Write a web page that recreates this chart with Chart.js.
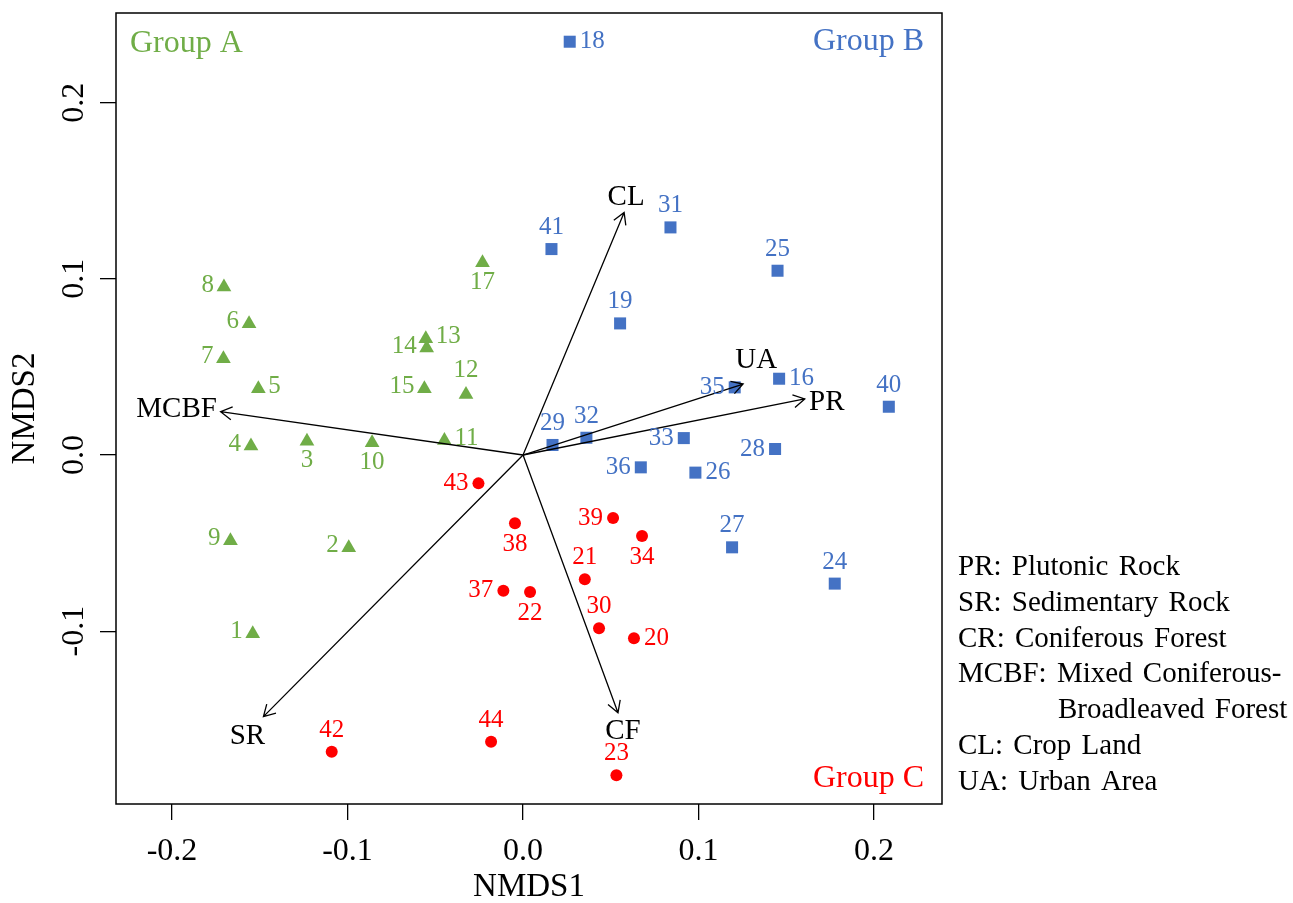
<!DOCTYPE html>
<html>
<head>
<meta charset="utf-8">
<title>NMDS ordination</title>
<script src="https://cdn.jsdelivr.net/npm/chart.js@4.4.1/dist/chart.umd.min.js"></script>
<style>
  html, body { margin: 0; padding: 0; background: #ffffff; }
  #wrap { width: 1293px; height: 903px; }
</style>
</head>
<body>
<div id="wrap"><canvas id="nmdsChart" width="1293" height="903"></canvas></div>
<script>
// ----------------------------------------------------
// Data
// ----------------------------------------------------
const groupNames = ['Group A', 'Group B', 'Group C'];

const groupAIds = [1, 2, 3, 4, 5, 6, 7, 8, 9, 10, 11, 12, 13, 14, 15, 17];
const groupAX = [-0.1540, -0.0993, -0.1231, -0.1550, -0.1508, -0.1561, -0.1707, -0.1704,
                 -0.1667, -0.0860, -0.0448, -0.0325, -0.0554, -0.0549, -0.0562, -0.0231];
const groupAY = [-0.1014, -0.0526, 0.0078, 0.0051, 0.0376, 0.0745, 0.0547, 0.0953,
                 -0.0486, 0.0070, 0.0083, 0.0344, 0.0660, 0.0607, 0.0376, 0.1091];

const groupBIds = [16, 18, 19, 24, 25, 26, 27, 28, 29, 31, 32, 33, 35, 36, 40, 41];
const groupBX = [0.1459, 0.0266, 0.0553, 0.1776, 0.1450, 0.0982, 0.1191, 0.1436,
                 0.0168, 0.0840, 0.0361, 0.0916, 0.1206, 0.0671, 0.2084, 0.0162];
const groupBY = [0.0433, 0.2346, 0.0747, -0.0730, 0.1046, -0.0100, -0.0524, 0.0034,
                 0.0057, 0.1292, 0.0098, 0.0096, 0.0384, -0.0070, 0.0274, 0.1169];

const groupCIds = [20, 21, 22, 23, 30, 34, 37, 38, 39, 42, 43, 44];
const groupCX = [0.0632, 0.0352, 0.0040, 0.0532, 0.0433, 0.0678,
                 -0.0112, -0.0046, 0.0513, -0.1090, -0.0254, -0.0182];
const groupCY = [-0.1040, -0.0705, -0.0778, -0.1818, -0.0984, -0.0460,
                 -0.0770, -0.0388, -0.0358, -0.1684, -0.0161, -0.1627];

// Environmental vectors (arrow tips)
const vectorNames = ['CL', 'UA', 'PR', 'MCBF', 'SR', 'CF'];
const vectorX = [0.0576, 0.1254, 0.1605, -0.1723, -0.1479, 0.0541];
const vectorY = [0.1377, 0.0403, 0.0318, 0.0246, -0.1485, -0.1463];

// Axis ticks
const xTicks = [-0.2, -0.1, 0.0, 0.1, 0.2];
const yTicks = [-0.1, 0.0, 0.1, 0.2];

// Abbreviation key on the right
const keyLines = [
    'PR: Plutonic Rock',
    'SR: Sedimentary Rock',
    'CR: Coniferous Forest',
    'MCBF: Mixed Coniferous-',
    'Broadleaved Forest',
    'CL: Crop Land',
    'UA: Urban Area'
];

// ----------------------------------------------------
// Styling (label placement, fonts, colours)
// ----------------------------------------------------
const FONT = "'Liberation Serif', 'Times New Roman', serif";
Chart.defaults.font.family = FONT;
Chart.defaults.color = '#000000';

const COLORS = { A: '#70AD47', B: '#4472C4', C: '#FF0000' };

// which side of the marker each sample number sits on (l/r/t/b)
const groupASide = ['l', 'l', 'b', 'l', 'r', 'l', 'l', 'l', 'l', 'b', 'r', 't', 'r', 'l', 'l', 'b'];
const groupBSide = ['r', 'r', 't', 't', 't', 'r', 't', 'l', 't', 't', 't', 'l', 'l', 'l', 't', 't'];
const groupCSide = ['r', 't', 'b', 't', 't', 'b', 'l', 'b', 'l', 't', 'l', 't'];

// pixel offset of each vector name from its arrow tip
const vectorLabelOffset = [[2, -15], [13, -24], [22, 3], [-44, -2], [-16, 20], [5, 19]];

function toPoints(xs, ys) {
    return xs.map((x, i) => ({ x: x, y: ys[i] }));
}

// ----------------------------------------------------
// Plugins
// ----------------------------------------------------
const frameBox = {
    id: 'frameBox',
    afterDraw(chart) {
        const { ctx, chartArea: a } = chart;
        ctx.save();
        ctx.strokeStyle = '#000';
        ctx.lineWidth = 1.5;
        ctx.strokeRect(a.left, a.top, a.right - a.left, a.bottom - a.top);
        ctx.restore();
    }
};

const envVectors = {
    id: 'envVectors',
    afterDatasetsDraw(chart) {
        const { ctx, scales: { x, y } } = chart;
        const x0 = x.getPixelForValue(0);
        const y0 = y.getPixelForValue(0);
        const head = 13;
        ctx.save();
        ctx.strokeStyle = '#000';
        ctx.fillStyle = '#000';
        ctx.lineWidth = 1.3;
        ctx.font = '29px ' + FONT;
        ctx.textAlign = 'center';
        ctx.textBaseline = 'middle';
        vectorNames.forEach((name, i) => {
            const x1 = x.getPixelForValue(vectorX[i]);
            const y1 = y.getPixelForValue(vectorY[i]);
            const ang = Math.atan2(y1 - y0, x1 - x0);
            ctx.beginPath();
            ctx.moveTo(x0, y0);
            ctx.lineTo(x1, y1);
            ctx.moveTo(x1 - head * Math.cos(ang - Math.PI / 6), y1 - head * Math.sin(ang - Math.PI / 6));
            ctx.lineTo(x1, y1);
            ctx.lineTo(x1 - head * Math.cos(ang + Math.PI / 6), y1 - head * Math.sin(ang + Math.PI / 6));
            ctx.stroke();
            const off = vectorLabelOffset[i];
            ctx.fillText(name, x1 + off[0], y1 + off[1]);
        });
        ctx.restore();
    }
};

const labelSets = [
    { ids: groupAIds, sides: groupASide, color: COLORS.A, shift: -2 },
    { ids: groupBIds, sides: groupBSide, color: COLORS.B, shift: 0 },
    { ids: groupCIds, sides: groupCSide, color: COLORS.C, shift: 0 }
];

const sampleLabels = {
    id: 'sampleLabels',
    afterDatasetsDraw(chart) {
        const { ctx } = chart;
        const gap = 10, vgap = 21.5;
        ctx.save();
        ctx.font = '25px ' + FONT;
        ctx.textBaseline = 'middle';
        labelSets.forEach((set, di) => {
            const meta = chart.getDatasetMeta(di);
            ctx.fillStyle = set.color;
            meta.data.forEach((pt, i) => {
                let tx = pt.x, ty = pt.y + set.shift;
                switch (set.sides[i]) {
                    case 'l': ctx.textAlign = 'right'; tx -= gap; break;
                    case 'r': ctx.textAlign = 'left'; tx += gap; break;
                    case 't': ctx.textAlign = 'center'; ty -= vgap; break;
                    default: ctx.textAlign = 'center'; ty += vgap;
                }
                ctx.fillText(String(set.ids[i]), tx, ty);
            });
        });
        ctx.restore();
    }
};

const annotations = {
    id: 'annotations',
    afterDraw(chart) {
        const { ctx, chartArea: a } = chart;
        ctx.save();
        ctx.textBaseline = 'alphabetic';
        ctx.font = '32px ' + FONT;

        // group names in the corners
        ctx.fillStyle = COLORS.A;
        ctx.textAlign = 'left';
        ctx.fillText(groupNames[0], a.left + 14, a.top + 39);
        ctx.fillStyle = COLORS.B;
        ctx.textAlign = 'right';
        ctx.fillText(groupNames[1], a.right - 18, a.top + 37);
        ctx.fillStyle = COLORS.C;
        ctx.fillText(groupNames[2], a.right - 18, a.bottom - 17);

        // abbreviation key
        ctx.fillStyle = '#000';
        ctx.textAlign = 'left';
        ctx.font = '29px ' + FONT;
        if ('wordSpacing' in ctx) ctx.wordSpacing = '3px';
        keyLines.forEach((line, i) => {
            const indent = (i === 4) ? 100 : 0;
            ctx.fillText(line, a.right + 16 + indent, 575 + i * 35.8);
        });
        ctx.restore();
    }
};

// ----------------------------------------------------
// Chart
// ----------------------------------------------------
const axisGrid = {
    display: true,
    drawOnChartArea: false,
    drawTicks: true,
    tickLength: 16,
    color: '#000',
    lineWidth: 1.3
};

// fixed axis boxes, no extra padding for edge labels
function fixBox(size) {
    return s => {
        if (s.isHorizontal()) s.height = size; else s.width = size;
        s.paddingTop = 0;
        s.paddingBottom = 0;
        s.paddingLeft = 0;
        s.paddingRight = 0;
    };
}

const ctx = document.getElementById('nmdsChart').getContext('2d');
new Chart(ctx, {
    type: 'scatter',
    data: {
        datasets: [
            {
                label: groupNames[0],
                data: toPoints(groupAX, groupAY),
                pointStyle: 'triangle',
                pointRadius: 8.5,
                backgroundColor: COLORS.A,
                borderColor: COLORS.A,
                borderWidth: 0
            },
            {
                label: groupNames[1],
                data: toPoints(groupBX, groupBY),
                pointStyle: 'rect',
                pointRadius: 8.5,
                backgroundColor: COLORS.B,
                borderColor: COLORS.B,
                borderWidth: 0
            },
            {
                label: groupNames[2],
                data: toPoints(groupCX, groupCY),
                pointStyle: 'circle',
                pointRadius: 6,
                backgroundColor: COLORS.C,
                borderColor: COLORS.C,
                borderWidth: 0
            }
        ]
    },
    options: {
        responsive: false,
        animation: false,
        devicePixelRatio: 1,
        events: [],
        layout: { padding: { top: 13, right: 351, bottom: 0, left: 0 } },
        plugins: {
            legend: { display: false },
            tooltip: { enabled: false }
        },
        scales: {
            x: {
                type: 'linear',
                min: -0.2319,
                max: 0.2387,
                afterBuildTicks: s => { s.ticks = xTicks.map(v => ({ value: v })); },
                afterFit: fixBox(99),
                grid: axisGrid,
                border: { display: false },
                ticks: {
                    font: { size: 32 },
                    color: '#000',
                    padding: 12,
                    maxRotation: 0,
                    callback: v => v.toFixed(1)
                },
                title: {
                    display: true,
                    text: 'NMDS1',
                    color: '#000',
                    font: { size: 33, lineHeight: 0.8 },
                    padding: { top: 0, bottom: 2 }
                }
            },
            y: {
                type: 'linear',
                min: -0.1981,
                max: 0.2509,
                afterBuildTicks: s => { s.ticks = yTicks.map(v => ({ value: v })); },
                afterFit: fixBox(116),
                grid: axisGrid,
                border: { display: false },
                ticks: {
                    font: { size: 32 },
                    color: '#000',
                    padding: 0,
                    minRotation: 90,
                    maxRotation: 90,
                    crossAlign: 'center',
                    callback: v => v.toFixed(1)
                },
                title: {
                    display: true,
                    text: 'NMDS2',
                    color: '#000',
                    font: { size: 33, lineHeight: 0.8 },
                    padding: { top: 12, bottom: 0 }
                }
            }
        }
    },
    plugins: [frameBox, envVectors, sampleLabels, annotations]
});
</script>
</body>
</html>
